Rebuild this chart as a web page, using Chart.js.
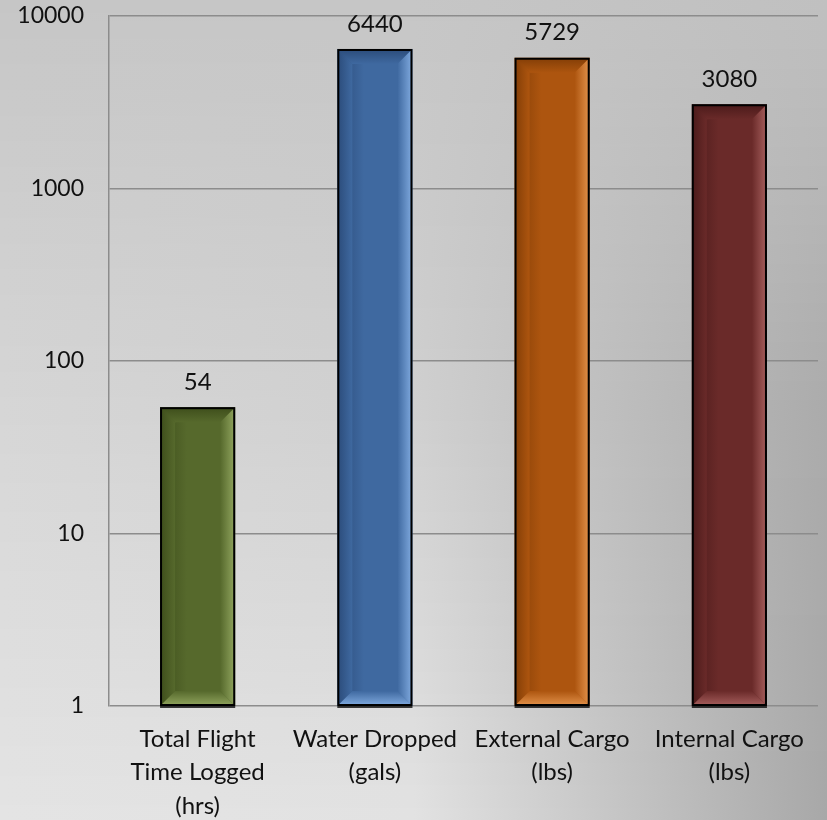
<!DOCTYPE html>
<html>
<head>
<meta charset="utf-8">
<script src="https://cdn.jsdelivr.net/npm/chart.js@4"></script>
<style>
html,body{margin:0;padding:0;background:#d0d0d0;}
canvas{display:block;}
</style>
</head>
<body>
<canvas id="c" width="827" height="820"></canvas>
<script>
const categories = [
  ["Total Flight", "Time Logged", "(hrs)"],
  ["Water Dropped", "(gals)"],
  ["External Cargo", "(lbs)"],
  ["Internal Cargo", "(lbs)"]
];
const values = [54, 6440, 5729, 3080];
const yTicks = [1, 10, 100, 1000, 10000];

const faceColors  = ["#56692c", "#3f69a0", "#ad550f", "#6a2a29"];
const darkColors  = ["#3f4f1c", "#2c4d7c", "#853f07", "#4c1b1b"];
const lightColors = ["#8ea25c", "#7da7dc", "#e08f48", "#a35c5a"];

const FONT = "Lato, 'Open Sans', sans-serif";

function lerp(a, b, t) { return a + (b - a) * t; }
function gray(v) { v = Math.round(v); return "rgb(" + v + "," + v + "," + v + ")"; }

const bgPlugin = {
  id: "bg",
  beforeDraw(chart) {
    const ctx = chart.ctx, W = chart.width, H = chart.height;
    const rows = [[198, 198, 192], [214, 208, 171], [228, 226, 168]];
    ctx.save();
    for (let y = 0; y < H; y++) {
      const t = y / (H - 1);
      let cols;
      if (t < 0.5) { const u = t / 0.5; cols = rows[0].map((v, i) => lerp(v, rows[1][i], u)); }
      else { const u = (t - 0.5) / 0.5; cols = rows[1].map((v, i) => lerp(v, rows[2][i], u)); }
      const g = ctx.createLinearGradient(0, 0, W, 0);
      g.addColorStop(0, gray(cols[0]));
      g.addColorStop(0.5, gray(cols[1]));
      g.addColorStop(1, gray(cols[2]));
      ctx.fillStyle = g;
      ctx.fillRect(0, y, W, 1);
    }
    ctx.restore();
  }
};

const bevelPlugin = {
  id: "bevel",
  afterDatasetsDraw(chart) {
    const ctx = chart.ctx;
    const meta = chart.getDatasetMeta(0);
    meta.data.forEach((bar, i) => {
      const p = bar.getProps(["x", "y", "base", "width"], true);
      const bw = 2;
      const L = p.x - p.width / 2 + bw / 2, R = p.x + p.width / 2 - bw / 2;
      const T = p.y + bw / 2, B = p.base - bw / 2;
      const w = 14;
      ctx.save();
      let g = ctx.createLinearGradient(L, 0, R, 0);
      g.addColorStop(0, darkColors[i]);
      g.addColorStop(0.35, faceColors[i]);
      g.addColorStop(1, faceColors[i]);
      ctx.fillStyle = g;
      ctx.fillRect(L, T, R - L, B - T);
      // top
      g = ctx.createLinearGradient(0, T, 0, T + w);
      g.addColorStop(0, darkColors[i]);
      g.addColorStop(1, faceColors[i]);
      ctx.fillStyle = g;
      ctx.beginPath(); ctx.moveTo(L, T); ctx.lineTo(R, T); ctx.lineTo(R - w, T + w); ctx.lineTo(L + w, T + w); ctx.closePath(); ctx.fill();
      // left
      g = ctx.createLinearGradient(L, 0, L + w, 0);
      g.addColorStop(0, darkColors[i]);
      g.addColorStop(1, faceColors[i]);
      ctx.fillStyle = g;
      ctx.beginPath(); ctx.moveTo(L, T); ctx.lineTo(L + w, T + w); ctx.lineTo(L + w, B - w); ctx.lineTo(L, B); ctx.closePath(); ctx.fill();
      // right
      g = ctx.createLinearGradient(R - w, 0, R, 0);
      g.addColorStop(0, faceColors[i]);
      g.addColorStop(1, lightColors[i]);
      ctx.fillStyle = g;
      ctx.beginPath(); ctx.moveTo(R, T); ctx.lineTo(R, B); ctx.lineTo(R - w, B - w); ctx.lineTo(R - w, T + w); ctx.closePath(); ctx.fill();
      // bottom
      g = ctx.createLinearGradient(0, B - w, 0, B);
      g.addColorStop(0, faceColors[i]);
      g.addColorStop(1, lightColors[i]);
      ctx.fillStyle = g;
      ctx.beginPath(); ctx.moveTo(L, B); ctx.lineTo(R, B); ctx.lineTo(R - w, B - w); ctx.lineTo(L + w, B - w); ctx.closePath(); ctx.fill();
      // border
      ctx.strokeStyle = "#000";
      ctx.lineWidth = bw;
      ctx.strokeRect(L, T, R - L, B - T);
      ctx.fillStyle = "rgba(0,0,0,0.75)";
      ctx.fillRect(L - 1, B + 1, R - L + 2, 2);
      // value label
      ctx.fillStyle = "#111";
      ctx.font = "24px " + FONT;
      ctx.textAlign = "center";
      ctx.textBaseline = "middle";
      ctx.fillText(String(values[i]), p.x, p.y - 25);
      ctx.restore();
    });
  }
};

new Chart(document.getElementById("c"), {
  type: "bar",
  data: {
    labels: categories,
    datasets: [{
      data: values,
      backgroundColor: faceColors,
      borderColor: "#000",
      borderWidth: 0,
      categoryPercentage: 1,
      barPercentage: 0.424
    }]
  },
  options: {
    responsive: false,
    devicePixelRatio: 1,
    animation: false,
    layout: { padding: { left: 0, right: 9, top: 16, bottom: 0 } },
    plugins: { legend: { display: false }, tooltip: { enabled: false } },
    scales: {
      x: {
        grid: { display: false, drawTicks: false },
        border: { display: false },
        ticks: { color: "#111", font: { family: FONT, size: 24, lineHeight: 1.38 }, padding: 17, maxRotation: 0, autoSkip: false },
        afterFit(s) { s.height = 114; s.paddingLeft = 0; s.paddingRight = 0; s.paddingTop = 0; s.paddingBottom = 0; }
      },
      y: {
        type: "logarithmic",
        min: 1,
        max: 10000,
        afterBuildTicks(s) { s.ticks = yTicks.map(v => ({ value: v })); },
        grid: { color: "#8c8c8c", lineWidth: 1.5, drawTicks: false },
        border: { display: true, color: "#8c8c8c", width: 1.5 },
        ticks: { color: "#111", font: { family: FONT, size: 23 }, padding: 25, callback: v => String(v) },
        afterFit(s) { s.width = 109; s.paddingTop = 0; s.paddingBottom = 0; s.paddingLeft = 0; s.paddingRight = 0; }
      }
    }
  },
  plugins: [bgPlugin, bevelPlugin]
});
</script>
</body>
</html>
